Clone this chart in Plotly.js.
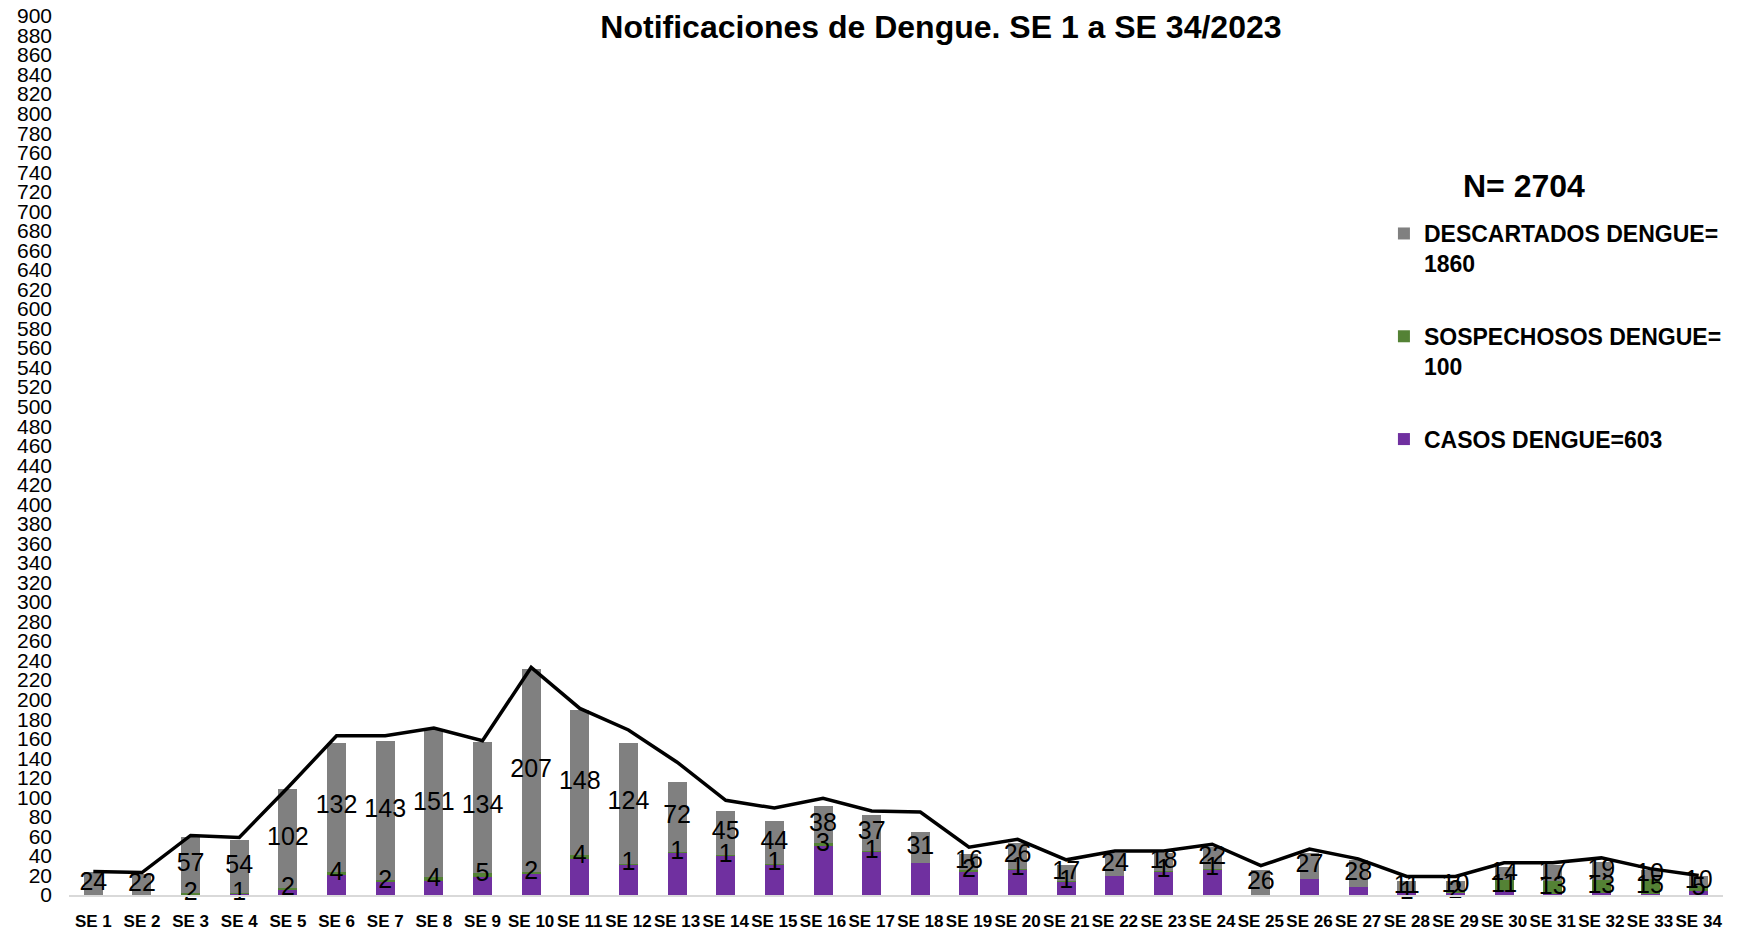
<!DOCTYPE html>
<html>
<head>
<meta charset="utf-8">
<script src="https://cdn.plot.ly/plotly-3.0.1.min.js"></script>
<style>html,body{margin:0;padding:0;background:#fff;}#chart{width:1747px;height:931px;}</style>
</head>
<body>
<div id="chart"></div>
<script>
const weeks = ['SE 1','SE 2','SE 3','SE 4','SE 5','SE 6','SE 7','SE 8','SE 9','SE 10','SE 11','SE 12','SE 13','SE 14','SE 15','SE 16','SE 17','SE 18','SE 19','SE 20','SE 21','SE 22','SE 23','SE 24','SE 25','SE 26','SE 27','SE 28','SE 29','SE 30','SE 31','SE 32','SE 33','SE 34'];
const casos = [0,0,0,1,5,20,13,14,18,22,37,31,43,40,31,50,44,33,24,26,13,19,24,26,0,16,8,2,2,4,1,2,1,4];
const sospechosos = [0,0,2,1,2,4,2,4,5,2,4,1,1,1,1,3,1,0,2,1,1,0,1,1,0,0,0,1,2,11,13,13,15,5];
const descartados = [24,22,57,54,102,132,143,151,134,207,148,124,72,45,44,38,37,31,16,26,17,24,18,22,26,27,28,11,10,14,17,19,10,10];
const total = [24,23,61,59,110,163,163,171,158,233,191,169,136,97,89,99,86,85,49,57,36,45,45,52,30,47,37,19,19,33,33,38,27,20];

const legendNames = ['CASOS DENGUE=603','SOSPECHOSOS DENGUE=<br>100','DESCARTADOS DENGUE=<br>1860'];
const nText = 'N= 2704';
const titleText = 'Notificaciones de Dengue. SE 1 a SE 34/2023';

const FONT = 'Liberation Sans, Arial, sans-serif';

const greenLabelY = casos.map((c,i)=> c + sospechosos[i]/2);
const grayLabelY = casos.map((c,i)=> c + sospechosos[i] + descartados[i]/2);
const greenLabels = sospechosos.map(v => v > 0 ? String(v) : '');
const grayLabels = descartados.map(v => String(v));

const data = [
  {type:'bar', x:weeks, y:casos, name:legendNames[0], legendgroup:'c', legendrank:3, marker:{color:'#7030a0'}, hoverinfo:'skip'},
  {type:'bar', x:weeks, y:sospechosos, name:legendNames[1], legendgroup:'s', legendrank:2, marker:{color:'#548235'}, hoverinfo:'skip'},
  {type:'bar', x:weeks, y:descartados, name:legendNames[2], legendgroup:'d', legendrank:1, marker:{color:'#808080'}, hoverinfo:'skip'},
  {type:'scatter', mode:'lines', x:weeks, y:total, line:{color:'#000', width:3.5}, showlegend:false, hoverinfo:'skip'},
  {type:'scatter', mode:'text', x:weeks, y:grayLabelY, text:grayLabels, textposition:'middle center', textfont:{family:FONT, size:25, color:'#000'}, showlegend:false, cliponaxis:false, hoverinfo:'skip'},
  {type:'scatter', mode:'text', x:weeks, y:greenLabelY, text:greenLabels, textposition:'middle center', textfont:{family:FONT, size:25, color:'#000'}, showlegend:false, cliponaxis:false, hoverinfo:'skip'}
];

const layout = {
  width:1747, height:931,
  margin:{l:69, r:24, t:16, b:36},
  paper_bgcolor:'#fff', plot_bgcolor:'#fff',
  barmode:'stack', bargap:0.61,
  font:{family:FONT, color:'#000'},
  title:{text:titleText, font:{family:FONT, size:32, weight:'bold', color:'#000'}, x:0.5386, xanchor:'center', y:0.971, yanchor:'middle', xref:'container', yref:'container'},
  xaxis:{type:'category', range:[-0.5, 33.5], autorange:false, showgrid:false, zeroline:false, showline:true, linecolor:'#d9d9d9', linewidth:2, ticks:'', tickangle:0, tickfont:{family:FONT, size:17, weight:'bold', color:'#000'}, ticklabelstandoff:10, automargin:false, fixedrange:true},
  yaxis:{range:[0,900], autorange:false, tickmode:'linear', tick0:0, dtick:20, showgrid:false, zeroline:false, showline:false, ticks:'', tickfont:{family:FONT, size:21, color:'#000'}, ticklabelstandoff:16, automargin:false, fixedrange:true},
  legend:{x:0.795, xanchor:'left', y:0.777, yanchor:'top', traceorder:'grouped', tracegroupgap:40, valign:'top', font:{family:FONT, size:23, weight:'bold', color:'#000'}, bgcolor:'rgba(0,0,0,0)'},
  annotations:[{text:nText, xref:'paper', yref:'paper', x:0.8797, y:0.807, xanchor:'center', yanchor:'middle', showarrow:false, font:{family:FONT, size:32, weight:'bold', color:'#000'}}],
  showlegend:true
};

Plotly.newPlot('chart', data, layout, {staticPlot:true, displayModeBar:false});
</script>
</body>
</html>
